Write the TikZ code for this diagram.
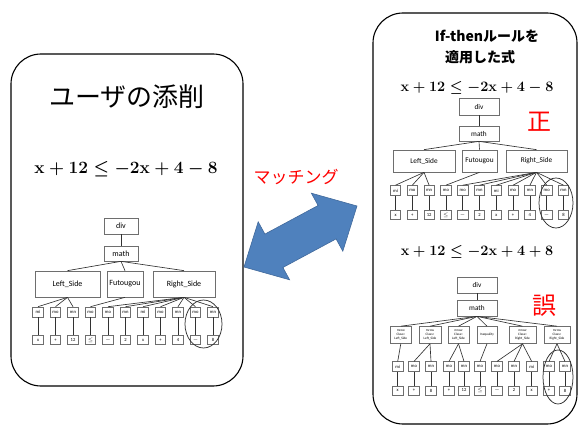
\documentclass[tikz,border=0pt]{standalone}
\usepackage{fontspec}
\setmainfont{Carlito}
\newfontfamily\cjk{Noto Sans CJK JP}
\definecolor{arrowfill}{RGB}{79,129,189}
\definecolor{arrowline}{RGB}{65,105,155}
\definecolor{boxline}{RGB}{110,110,110}
\definecolor{connline}{RGB}{50,50,50}
\newcommand{\fmlA}{\ensuremath{\mathbf{x}+\mathbf{12}\le-\mathbf{2x}+\mathbf{4}-\mathbf{8}}}
\newcommand{\fmlB}{\ensuremath{\mathbf{x}+\mathbf{12}\le-\mathbf{2x}+\mathbf{4}+\mathbf{8}}}
\newcommand{\bigfml}[2]{{\fontsize{#1}{#1}\selectfont\boldmath#2}}
\begin{document}
\begin{tikzpicture}[x=1pt,y=-1pt,
  panel/.style={draw=black,line width=1.1pt,rounded corners=30pt},
  tbox/.style={draw=boxline,line width=0.7pt,inner sep=0pt,font=\fontsize{8}{9}\selectfont},
  tboxr/.style={tbox,font=\fontsize{7.3}{8}\selectfont},
  leaf/.style={draw=boxline,line width=0.6pt,inner sep=0pt,minimum width=10.5pt,minimum height=10pt,font=\fontsize{4.6}{5}\selectfont},
  leafb/.style={leaf,minimum height=8.5pt},
  mrowbox/.style={draw=boxline,line width=0.6pt,inner sep=0pt,minimum height=17pt,align=center,font=\fontsize{3.4}{3.8}\selectfont},
  conn/.style={draw=connline,line width=0.65pt},
  ring/.style={draw=connline,line width=0.75pt},
  redtext/.style={text=red,inner sep=0pt}]
\useasboundingbox (0,0) rectangle (578,427);

% panels
\draw[panel] (11,54) rectangle (243,386);
\draw[panel] (373,13) rectangle (577,424);

% texts
\node[inner sep=0pt] (t1) at (127,97) {\cjk\fontsize{26}{30}\selectfont ユーザの添削};
\node[inner sep=0pt] (f1) at (126,169) {{\bigfml{18.6}{\fmlA}}};
\node[inner sep=0pt] (t2) at (487,36) {\cjk\bfseries\fontsize{14}{16}\selectfont If-thenルールを};
\node[inner sep=0pt] (t3) at (480,57) {\cjk\bfseries\fontsize{14}{16}\selectfont 適用した式};
\node[inner sep=0pt] (f2) at (477,88) {{\bigfml{15.4}{\fmlA}}};
\node[inner sep=0pt] (f3) at (477,252) {{\bigfml{15.4}{\fmlB}}};
\node[redtext] (match) at (296,177) {\cjk\fontsize{17}{20}\selectfont マッチング};
\node[redtext] (sei) at (539,122) {\cjk\fontsize{24}{26}\selectfont 正};
\node[redtext] (go) at (544,306) {\cjk\fontsize{24}{26}\selectfont 誤};

% double arrow
\draw[fill=arrowfill,draw=arrowline,line width=0.6pt,line join=miter]
  (244,267) -- (258.2,221.8) -- (264.9,234.1) -- (318.1,205.5) -- (311.4,193.2)
  -- (357,206) -- (342.8,251.2) -- (336.1,238.9) -- (282.9,267.5) -- (289.6,279.8) -- cycle;

% ---------- left tree ----------
\node[tbox,minimum width=34pt,minimum height=16pt] (Ldiv) at (121,226) {div};
\node[tbox,minimum width=34pt,minimum height=15pt] (Lmath) at (121,253.5) {math};
\node[tbox,minimum width=65pt,minimum height=26pt] (LLS) at (67.5,284) {Left\_Side};
\node[tbox,minimum width=36pt,minimum height=26pt] (LFT) at (125,284) {Futougou};
\node[tbox,minimum width=62pt,minimum height=26pt] (LRS) at (184,284) {Right\_Side};
\draw[conn] (Ldiv) -- (Lmath);
\foreach \n in {LLS,LFT,LRS} \draw[conn] (Lmath.south) -- (\n.north);
\foreach \i/\a/\b in {1/mi/x,2/mo/+,3/mn/12,4/mo/{{$\le$}},5/mo/{{$-$}},6/mn/2,7/mi/x,8/mo/+,9/mn/4,10/mo/{{$-$}},11/mn/8}{
  \node[leaf] (La\i) at ({38+17.5*(\i-1)},312) {\a};
  \node[leafb] (Lb\i) at ({38+17.5*(\i-1)},340) {{\b}};
  \draw[conn] (La\i) -- (Lb\i);
}
\foreach \i in {1,2,3} \draw[conn] (LLS.south) -- (La\i.north);
\draw[conn] (LFT.south) -- (La4.north);
\foreach \i in {5,...,11} \draw[conn] (LRS.south) -- (La\i.north);
\draw[ring] (203.5,324) ellipse [x radius=18.5pt, y radius=24pt];

% ---------- right top tree ----------
\node[tboxr,minimum width=40pt,minimum height=17pt] (Rdiv) at (479,106.5) {div};
\node[tboxr,minimum width=40pt,minimum height=15pt] (Rmath) at (479,133.5) {math};
\node[tboxr,minimum width=62pt,minimum height=22pt] (RLS) at (424,161) {Left\_Side};
\node[tboxr,minimum width=35pt,minimum height=22pt] (RFT) at (479.5,161) {Futougou};
\node[tboxr,minimum width=61pt,minimum height=22pt] (RRS) at (536.5,161) {Right\_Side};
\draw[conn] (Rdiv) -- (Rmath);
\foreach \n in {RLS,RFT,RRS} \draw[conn] (Rmath.south) -- (\n.north);
\foreach \i/\a/\b in {1/mi/x,2/mo/+,3/mn/12,4/mo/{{$\le$}},5/mo/{{$-$}},6/mn/2,7/mi/x,8/mo/+,9/mn/4,10/mo/{{$-$}},11/mn/8}{
  \node[leaf] (Ra\i) at ({395.5+16.8*(\i-1)},190.5) {\a};
  \node[leafb,minimum height=9.5pt] (Rb\i) at ({395.5+16.8*(\i-1)},215) {{\b}};
  \draw[conn] (Ra\i) -- (Rb\i);
}
\foreach \i in {1,2,3} \draw[conn] (RLS.south) -- (Ra\i.north);
\draw[conn] (RFT.south) -- (Ra4.north);
\foreach \i in {5,...,11} \draw[conn] (RRS.south) -- (Ra\i.north);
\draw[ring] (556,203) ellipse [x radius=17pt, y radius=25pt];

% ---------- right bottom tree ----------
\node[tboxr,minimum width=40pt,minimum height=16pt] (Bdiv) at (477,285) {div};
\node[tboxr,minimum width=40pt,minimum height=16pt] (Bmath) at (477,308) {math};
\node[mrowbox,minimum width=21.7pt] (B1) at (400.8,335) {mrow\\Class=\\Left\_Side};
\node[mrowbox,minimum width=22pt] (B2) at (430,335) {mrow\\Class=\\Left\_Side};
\node[mrowbox,minimum width=21pt] (B3) at (458.5,335) {mrow\\Class=\\Left\_Side};
\node[mrowbox,minimum width=20pt] (B4) at (487,335) {Inequality};
\node[mrowbox,minimum width=27pt] (B5) at (522.5,335) {mrow\\Class=\\Right\_Side};
\node[mrowbox,minimum width=26pt] (B6) at (557,335) {mrow\\Class=\\Right\_Side};
\draw[conn] (Bdiv) -- (Bmath);
\foreach \n in {B1,B2,B3,B4,B5,B6} \draw[conn] (Bmath.south) -- (\n.north);
\foreach \i/\x/\a/\b in {1/397.7/mi/x,2/414/mo/+,3/431/mn/8,4/449/mo/+,5/464/mn/12,6/480/mo/{{$\le$}},7/497/mo/{{$-$}},8/514/mn/2,9/531.7/mi/x,10/549/mo/+,11/565/mn/8}{
  \node[leaf] (Ba\i) at (\x,366.7) {\a};
  \node[leafb,minimum height=9pt] (Bb\i) at (\x,390.5) {{\b}};
  \draw[conn] (Ba\i) -- (Bb\i);
}
\draw[conn] (B1.south) -- (Ba1.north);
\foreach \i in {2,3} \draw[conn] (B2.south) -- (Ba\i.north);
\foreach \i in {4,5} \draw[conn] (B3.south) -- (Ba\i.north);
\draw[conn] (B4.south) -- (Ba6.north);
\foreach \i in {7,8,9} \draw[conn] (B5.south) -- (Ba\i.north);
\foreach \i in {10,11} \draw[conn] (B6.south) -- (Ba\i.north);
\draw[ring] (558,377) ellipse [x radius=15pt, y radius=27pt];
\end{tikzpicture}
\end{document}
